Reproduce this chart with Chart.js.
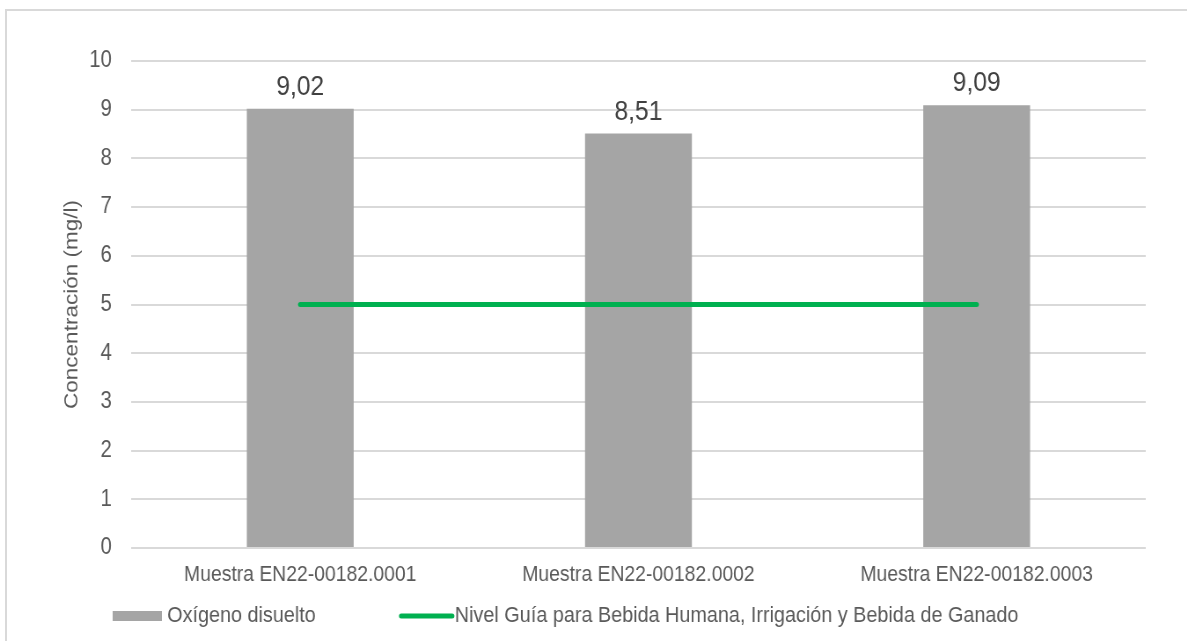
<!DOCTYPE html>
<html>
<head>
<meta charset="utf-8">
<script src="https://cdn.jsdelivr.net/npm/chart.js@4.4.1/dist/chart.umd.min.js"></script>
<style>
  html, body { margin: 0; padding: 0; background: #fff; overflow: hidden; }
  #frame {
    position: absolute; left: 5px; top: 9px; width: 1300px; height: 700px;
    border-top: 2px solid #d9d9d9; border-left: 2px solid #d9d9d9;
  }
  /* the chart is laid out wide and squeezed horizontally, like the exported sheet chart */
  #wrap {
    position: absolute; left: 0; top: 0; width: 1349px; height: 641px;
    transform: scaleX(0.88); transform-origin: 0 0;
  }
</style>
</head>
<body>
<div id="frame"></div>
<div id="wrap"><canvas id="myChart"></canvas></div>
<script>
// data
const categories = ['Muestra EN22-00182.0001', 'Muestra EN22-00182.0002', 'Muestra EN22-00182.0003'];
const oxigenoDisuelto = [9.02, 8.51, 9.09];
const nivelGuia = [5, 5, 5];
const yMin = 0;
const yMax = 10;
const yStep = 1;

const fontFamily = '"Liberation Sans", Arial, sans-serif';
const textGray = '#595959';

// value labels above each bar, with decimal comma
const barLabels = {
  id: 'barLabels',
  afterDatasetsDraw(chart) {
    const ctx = chart.ctx;
    const meta = chart.getDatasetMeta(0); // bar dataset
    ctx.save();
    ctx.font = '28px ' + fontFamily;
    ctx.fillStyle = '#404040';
    ctx.textAlign = 'center';
    ctx.textBaseline = 'alphabetic';
    meta.data.forEach((bar, i) => {
      const txt = oxigenoDisuelto[i].toFixed(2).replace('.', ',');
      ctx.fillText(txt, bar.x, bar.y - 14);
    });
    ctx.restore();
  }
};

// legend row under the axis
const bottomLegend = {
  id: 'bottomLegend',
  afterDraw(chart) {
    const ctx = chart.ctx;
    const y = 616;
    let x = 128;
    ctx.save();
    ctx.font = '22.5px ' + fontFamily;
    ctx.textBaseline = 'middle';
    ctx.textAlign = 'left';
    chart.data.datasets.forEach(ds => {
      let sw;
      if (ds.type === 'line') {
        sw = 62;
        ctx.strokeStyle = ds.borderColor;
        ctx.lineWidth = 5;
        ctx.lineCap = 'round';
        ctx.beginPath();
        ctx.moveTo(x + 2, y);
        ctx.lineTo(x + sw - 2, y);
        ctx.stroke();
        sw += 1;
      } else {
        sw = 56;
        ctx.fillStyle = ds.backgroundColor;
        ctx.fillRect(x, y - 5, sw, 10);
        sw += 6;
      }
      ctx.fillStyle = textGray;
      ctx.fillText(ds.label, x + sw, y);
      x += sw + ctx.measureText(ds.label).width + 95;
    });
    ctx.restore();
  }
};

const ctx = document.getElementById('myChart').getContext('2d');

let myChart = new Chart(ctx, {
  data: {
    labels: categories,
    datasets: [
      {
        type: 'bar',
        label: 'Oxígeno disuelto',
        data: oxigenoDisuelto,
        backgroundColor: '#a5a5a5',
        categoryPercentage: 1,
        barPercentage: 0.316,
        order: 1
      },
      {
        type: 'line',
        label: 'Nivel Guía para Bebida Humana, Irrigación y Bebida de Ganado',
        data: nivelGuia,
        borderColor: '#00b050',
        backgroundColor: '#00b050',
        borderWidth: 5,
        borderCapStyle: 'round',
        pointRadius: 0,
        order: 0
      }
    ]
  },
  options: {
    responsive: true,
    maintainAspectRatio: false,
    animation: false,
    layout: { padding: { top: 61, right: 47, left: 0, bottom: 0 } },
    plugins: {
      legend: { display: false },
      tooltip: { enabled: false }
    },
    scales: {
      x: {
        offset: true,
        grid: { display: false, drawTicks: false },
        border: { display: false },
        ticks: {
          color: textGray,
          font: { family: fontFamily, size: 22 },
          padding: 14,
          maxRotation: 0
        },
        afterFit: s => { s.height = 93; }
      },
      y: {
        min: yMin,
        max: yMax,
        grid: { color: '#d9d9d9', lineWidth: 2, drawTicks: false },
        border: { display: false },
        ticks: {
          stepSize: yStep,
          color: textGray,
          font: { family: fontFamily, size: 23 },
          padding: 22
        },
        title: {
          display: true,
          text: 'Concentración (mg/l)',
          color: textGray,
          font: { family: fontFamily, size: 22.5 },
          padding: { top: 68, bottom: 0 }
        },
        afterFit: s => { s.width = 149; }
      }
    }
  },
  plugins: [barLabels, bottomLegend]
});
</script>
</body>
</html>
